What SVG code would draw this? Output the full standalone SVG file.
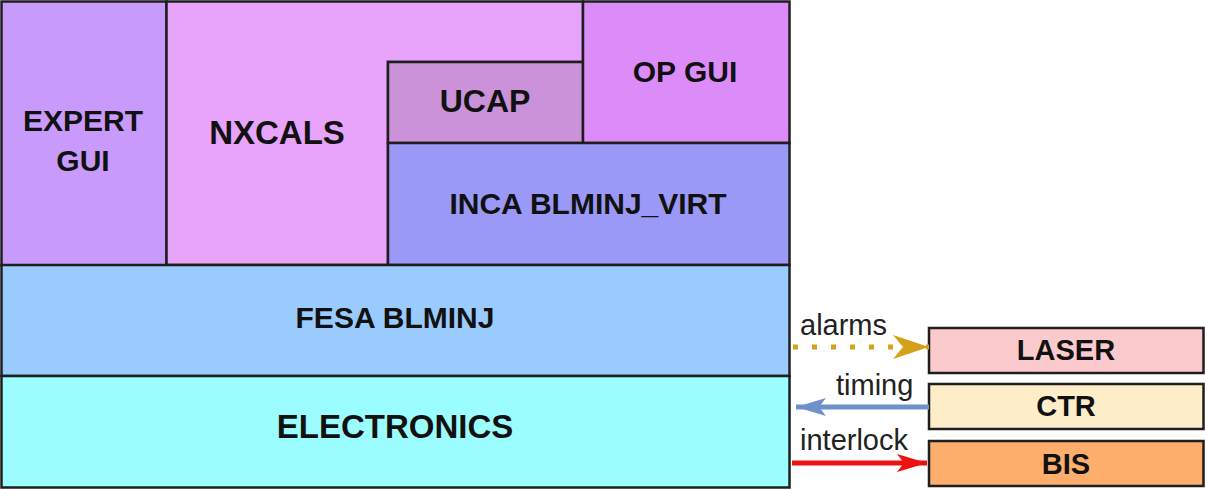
<svg xmlns="http://www.w3.org/2000/svg" width="1205" height="490" viewBox="0 0 1205 490">
<style>
.box{stroke:#1e1e1e;stroke-width:2.5}
.t{font-family:"Liberation Sans",Arial,sans-serif;font-weight:bold;font-size:30px;fill:#111;text-anchor:middle}
.l{font-family:"Liberation Sans",Arial,sans-serif;font-size:29px;fill:#222}
</style>
<defs>
<marker id="mGold" markerUnits="userSpaceOnUse" viewBox="0 0 36 24" refX="36" refY="12" markerWidth="36" markerHeight="24" orient="auto"><path d="M0,0 L36,12 L0,24 L10,12 Z" fill="#d6a11a"/></marker>
<marker id="mBlue" markerUnits="userSpaceOnUse" viewBox="0 0 30 18" refX="30" refY="9" markerWidth="30" markerHeight="18" orient="auto"><path d="M0,0 L30,9 L0,18 L7,9 Z" fill="#6f91c9"/></marker>
<marker id="mRed" markerUnits="userSpaceOnUse" viewBox="0 0 30 18" refX="30" refY="9" markerWidth="30" markerHeight="18" orient="auto"><path d="M0,0 L30,9 L0,18 L7,9 Z" fill="#ee1111"/></marker>
</defs>
<rect x="0" y="0" width="1205" height="490" fill="#ffffff"/>
<g id="expert-gui"><rect class="box" x="1.5" y="1.5" width="165" height="264" fill="#c89afc"/><text class="t" x="83" y="131">EXPERT</text><text class="t" x="83" y="171">GUI</text></g>
<g id="nxcals"><path class="box" d="M166.5,1.5 H583 V62 H388 V265 H166.5 Z" fill="#e8a3fb"/><text class="t" x="277" y="144" style="font-size:33px">NXCALS</text></g>
<g id="ucap"><rect class="box" x="388" y="62" width="195" height="81" fill="#cb92da"/><text class="t" x="485" y="112" style="font-size:32px">UCAP</text></g>
<g id="op-gui"><rect class="box" x="583" y="1.5" width="206.5" height="141.5" fill="#dc8cf9"/><text class="t" x="685" y="82">OP GUI</text></g>
<g id="inca"><rect class="box" x="388" y="143" width="401.5" height="122" fill="#9a99f8"/><text class="t" x="588" y="214">INCA BLMINJ_VIRT</text></g>
<g id="fesa"><rect class="box" x="1.5" y="265" width="788" height="111" fill="#99cbfe"/><text class="t" x="395" y="328">FESA BLMINJ</text></g>
<g id="electronics"><rect class="box" x="1.5" y="376" width="788" height="111.5" fill="#9bfdfd"/><text class="t" x="395" y="438" style="font-size:33px">ELECTRONICS</text></g>
<g id="laser"><rect class="box" x="929" y="328" width="274.5" height="45" fill="#fbcacc"/><text class="t" x="1066" y="360" style="font-size:29px">LASER</text></g>
<g id="ctr"><rect class="box" x="929" y="384" width="274.5" height="45" fill="#fdedc9"/><text class="t" x="1066" y="416" style="font-size:29px">CTR</text></g>
<g id="bis"><rect class="box" x="929" y="441" width="274.5" height="45" fill="#fdad6c"/><text class="t" x="1066" y="474" style="font-size:29px">BIS</text></g>
<g id="connectors">
<line x1="793" y1="347" x2="929" y2="347" stroke="#d6a11a" stroke-width="5" stroke-dasharray="5 14" marker-end="url(#mGold)"/>
<line x1="929" y1="407" x2="796" y2="407" stroke="#6f91c9" stroke-width="5" marker-end="url(#mBlue)"/>
<line x1="792" y1="463" x2="927" y2="463" stroke="#ee1111" stroke-width="5" marker-end="url(#mRed)"/>
<text class="l" x="800" y="335">alarms</text>
<text class="l" x="836" y="395">timing</text>
<text class="l" x="800" y="450">interlock</text>
</g>
</svg>
